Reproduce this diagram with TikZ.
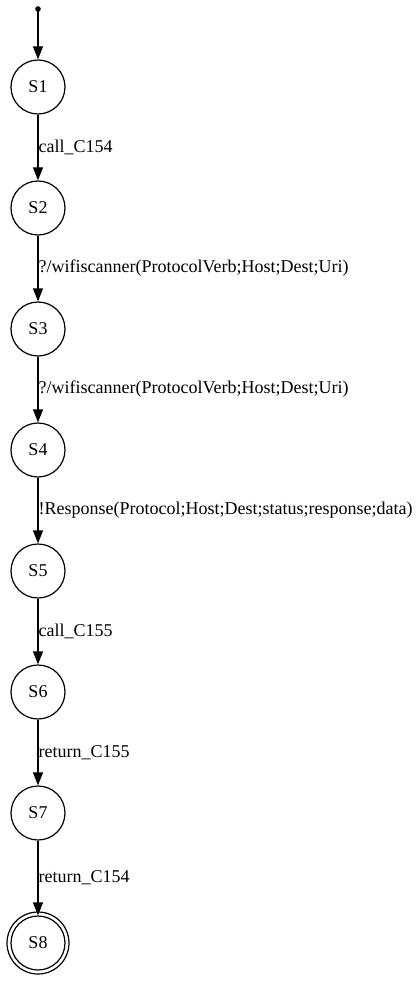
\documentclass[tikz,border=0pt]{standalone}
\usepackage{fontspec}
\setmainfont{Liberation Serif}
\usetikzlibrary{arrows.meta}
\begin{document}
\begin{tikzpicture}[x=1pt,y=-1pt,line width=1.2pt,
    state/.style={draw,circle,minimum size=54pt,inner sep=0pt,font=\fontsize{18}{20}\selectfont},
    trans/.style={-{Triangle[length=13pt,width=10pt]}},
    lbl/.style={anchor=west,inner sep=0pt,font=\fontsize{18}{20}\selectfont}]
    \useasboundingbox (0,0) rectangle (418,981);
    %% start point
    \coordinate (start) at (38,9);
    \fill (start) circle (2.8pt);
    %% states
    \foreach \i/\y in {1/87,2/208,3/329,4/450,5/571,6/692,7/813,8/943}
        \node[state] (s\i) at (38,\y) {S\i};
    \draw (s8) circle (31pt);
    %% transitions
    \draw[trans] (start) -- (s1);
    \foreach \a/\b/\t in {1/2/{call\_C154},
                          2/3/{?/wifiscanner(ProtocolVerb;Host;Dest;Uri)},
                          3/4/{?/wifiscanner(ProtocolVerb;Host;Dest;Uri)},
                          4/5/{!Response(Protocol;Host;Dest;status;response;data)},
                          5/6/{call\_C155},
                          6/7/{return\_C155},
                          7/8/{return\_C154}}
        \draw[trans] (s\a) -- (s\b) node[midway,lbl] {\t};
\end{tikzpicture}
\end{document}
